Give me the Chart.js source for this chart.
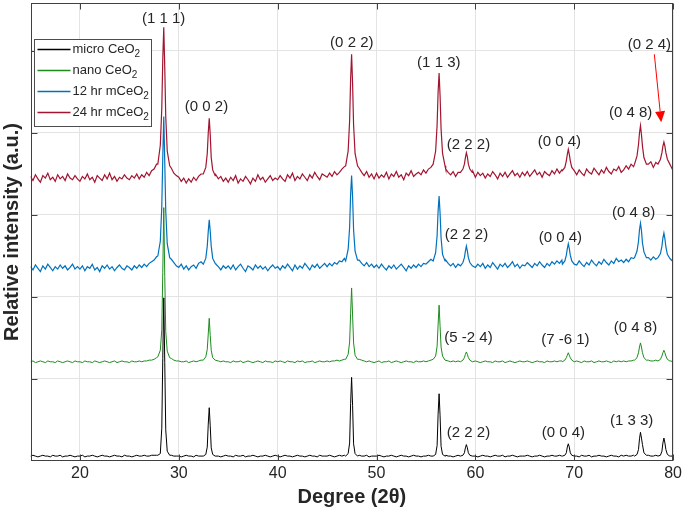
<!DOCTYPE html>
<html><head><meta charset="utf-8">
<script src="https://cdn.jsdelivr.net/npm/chart.js@4/dist/chart.umd.min.js"></script>
<style>html,body{margin:0;padding:0;background:#fff}#wrap{width:685px;height:515px}</style>
</head><body><div id="wrap"><canvas id="c" width="685" height="515"></canvas></div>
<script>
// ---- scan grid (2θ, degrees) ----
const scanStart = 15, scanStep = 0.25;
const xTickValues = [20, 30, 40, 50, 60, 70, 80];
const yGridValues = [100, 200, 300, 400, 500];
const seriesNames = ['micro CeO2', 'nano CeO2', '12 hr mCeO2', '24 hr mCeO2'];
const seriesColors = ['#000000', '#1d8c1d', '#0072BD', '#A2142F'];

// reflection positions and sampling offsets around them
const peakCenters = [28.48, 33.08, 47.48, 56.33, 59.09, 69.40, 76.70, 79.07];
const peakOffsets = [-0.6, -0.35, -0.2, -0.1, 0, 0.1, 0.2, 0.35, 0.6];

// ---- background (every 0.25°, 15 → 80) ----
const microBase = [
6,7,6,5,6,7,6,6,5,7,6,6,7,5,6,6,7,6,5,6,
6,7,5,6,6,7,6,5,6,7,6,6,5,6,7,6,6,5,7,6,
6,5,6,7,6,6,7,6,6,7,7,7,10,60,190,60,10,7,6,6,
6,5,6,7,6,6,5,7,6,6,7,30,65,30,7,6,6,5,6,7,
6,6,5,7,6,6,7,5,6,6,7,6,5,6,6,7,6,5,6,7,
6,5,6,7,6,6,5,6,7,6,6,5,6,7,6,6,5,7,6,6,
6,7,6,5,6,7,6,7,10,60,100,60,10,7,6,6,7,5,6,6,
6,7,6,5,6,6,7,6,5,6,7,6,6,5,6,7,6,6,5,6,
6,7,6,8,50,80,50,8,7,6,6,5,6,7,7,12,20,12,7,6,
6,5,6,7,6,6,5,6,7,6,6,7,5,6,6,7,6,5,6,6,
6,7,6,5,6,6,7,6,5,6,6,7,6,6,7,6,10,21,14,7,
6,6,5,7,6,6,7,5,6,6,7,6,6,5,6,7,6,6,5,7,
6,7,6,6,7,10,30,33,16,8,7,6,6,7,7,15,28,15,7,6,
6];
const nanoBase = [
121,122,120,121,122,121,120,122,121,121,120,122,121,120,121,122,121,120,122,121,
121,120,122,121,121,120,122,121,120,121,122,121,120,121,122,120,121,122,121,121,
120,122,121,121,122,121,122,122,123,123,124,126,130,170,300,170,130,125,123,122,
122,121,121,122,120,121,122,121,122,123,124,150,174,150,124,123,122,121,122,121,
121,120,122,121,121,122,120,121,122,121,120,121,122,121,120,122,121,121,120,122,
121,122,121,120,122,121,121,120,122,121,122,120,121,121,122,120,121,122,121,121,
122,121,122,122,123,122,123,124,130,180,211,180,130,124,123,122,121,122,121,120,
121,122,120,121,121,122,120,121,122,121,120,121,122,121,121,120,122,121,121,122,
121,122,123,130,170,190,170,130,123,122,121,122,121,122,122,128,133,128,122,121,
122,121,120,121,122,121,121,120,122,121,121,122,120,121,122,121,120,121,122,121,
121,122,121,120,121,122,121,121,120,122,121,121,122,121,122,122,126,132,128,123,
121,122,121,120,122,121,121,122,120,121,122,121,121,122,121,120,122,121,122,121,
122,121,122,122,123,130,143,140,130,124,123,122,122,123,124,130,135,130,124,122,
121];
const hr12Base = [
237,233,239,235,231,238,234,240,236,232,237,234,239,235,238,233,236,240,234,237,
234,238,232,237,235,240,233,236,231,238,235,239,234,237,232,236,239,235,233,238,
236,233,238,235,239,236,240,237,241,243,245,249,260,320,420,320,258,246,242,238,
236,240,234,238,233,237,239,235,241,243,245,270,294,270,245,240,237,233,238,235,
238,234,239,233,237,240,235,231,238,236,233,239,235,238,234,237,232,236,239,235,
237,233,238,235,240,236,232,239,234,238,235,241,237,233,239,236,240,235,238,241,
237,241,238,242,240,244,243,247,255,300,348,300,255,245,241,238,242,237,240,236,
239,235,240,236,233,238,235,239,234,237,240,236,232,238,235,239,236,240,237,241,
240,243,246,260,300,323,300,260,245,241,238,241,236,240,240,250,262,250,240,238,
236,240,237,241,235,239,236,242,238,234,240,237,241,236,239,243,237,240,235,239,
238,242,239,236,241,238,243,239,236,241,238,243,240,244,241,245,255,262,260,245,
243,239,244,240,237,242,239,245,241,238,243,240,246,242,239,244,241,247,243,245,
242,246,243,248,247,260,285,285,265,252,248,245,249,246,250,265,278,262,250,246,
243];
const hr24Base = [
347,342,349,344,340,348,345,351,343,346,341,349,344,347,342,350,345,343,348,344,
341,347,344,350,343,346,340,348,345,342,349,344,351,343,347,341,346,344,349,345,
343,348,345,350,344,349,346,352,348,354,356,362,370,400,500,400,365,357,351,348,
346,341,345,339,344,340,346,342,347,350,352,380,418,380,352,349,344,347,341,345,
340,346,342,348,339,344,341,347,343,338,345,341,349,343,346,340,344,348,342,345,
343,348,344,341,349,345,351,342,347,344,350,346,342,349,345,352,347,343,350,348,
346,351,347,353,349,352,356,359,380,430,496,430,380,357,352,348,353,346,350,344,
351,345,349,346,352,344,350,347,353,346,349,343,351,348,354,347,350,352,349,355,
351,356,358,370,420,470,420,370,356,352,349,353,347,352,355,365,376,365,355,353,
346,352,348,351,345,350,347,353,349,344,351,347,352,346,350,354,348,351,346,352,
348,353,347,351,355,349,352,346,353,350,348,354,350,356,351,355,366,378,376,358,
354,349,355,351,348,356,352,350,357,353,349,355,351,358,353,350,356,354,359,352,
355,360,356,362,359,380,405,405,385,368,362,365,358,364,366,380,389,380,366,360,
354];

// ---- peak profiles (one row per reflection, values at peakOffsets) ----
const microPeaks = [
[7,9,40,125,199,120,38,12,7],
[6,8,17,45,65,43,16,8,6],
[6,9,22,70,102,68,21,9,6],
[6,8,19,57,82,55,18,8,6],
[6,7,10,16,20,16,10,7,6],
[6,7,10,17,21,17,10,7,6],
[6,8,14,27,35,28,20,10,7],
[6,7,12,22,28,22,14,8,6]];
const nanoPeaks = [
[127,135,160,230,309,225,158,134,126],
[123,127,136,155,174,153,135,126,123],
[124,130,145,180,211,178,144,129,124],
[124,128,140,166,190,164,139,128,123],
[121,123,126,130,133,130,126,123,121],
[121,123,126,129,132,129,126,123,121],
[123,126,132,139,144,139,132,126,123],
[122,124,128,132,135,132,128,124,122]];
const hr12Peaks = [
[250,268,310,370,420,365,305,265,248],
[240,247,262,280,294,280,262,247,241],
[244,258,285,325,348,322,282,256,245],
[244,254,275,305,323,302,272,252,244],
[238,242,248,256,262,256,248,242,238],
[240,244,251,259,265,259,251,244,240],
[248,256,268,282,290,281,266,255,248],
[248,253,262,272,278,271,261,252,247]];
const hr24Peaks = [
[362,385,430,490,529,480,420,378,360],
[350,358,375,400,418,398,370,355,348],
[360,378,415,465,496,460,410,375,360],
[362,378,410,450,473,445,405,375,360],
[352,356,362,370,376,371,362,356,352],
[354,358,366,374,380,374,366,358,354],
[362,372,386,400,409,398,384,370,362],
[362,368,376,384,389,384,376,368,362]];

// ---- reflection labels ----
const labelTexts = ['(1 1 1)','(0 0 2)','(0 2 2)','(1 1 3)','(2 2 2)','(0 0 4)','(0 4 8)','(0 2 4)',
  '(2 2 2)','(0 0 4)','(0 4 8)',
  '(5 -2 4)','(7 -6 1)','(0 4 8)',
  '(2 2 2)','(0 0 4)','(1 3 3)'];
const labelX = [28.46,32.8,47.5,56.3,59.3,68.5,75.7,77.6, 59.1,68.6,76.0, 59.3,69.1,76.2, 59.3,68.9,75.8];
const labelY = [539,432,510,485,385,389,424,507, 276,272,302, 150,148,162, 34,34,49];
const arrowFrom = [78.1, 496];
const arrowTo = [78.8, 413];

function buildSeries(base, peaks) {
  const pts = [];
  base.forEach((v, i) => {
    const x = scanStart + i * scanStep;
    if (peakCenters.every(c => Math.abs(x - c) > 0.6 + 1e-9)) pts.push({x: x, y: v});
  });
  peaks.forEach((row, k) => row.forEach((v, j) => {
    pts.push({x: +(peakCenters[k] + peakOffsets[j]).toFixed(3), y: v});
  }));
  pts.sort((a, b) => a.x - b.x);
  return pts;
}

const FONT = "'Liberation Sans', Arial, Helvetica, sans-serif";
Chart.defaults.font.family = FONT;

const boxPlugin = {
  id: 'boxTicks',
  afterDatasetsDraw(chart) {
    const {ctx, chartArea: a, scales: {x, y}} = chart;
    ctx.save();
    ctx.strokeStyle = '#404040';
    ctx.lineWidth = 1;
    const L = Math.round(a.left) + 0.5, R = Math.round(a.right) - 0.5;
    const T = Math.round(a.top) + 0.5, B = Math.round(a.bottom) - 0.5;
    ctx.strokeRect(L, T, R - L, B - T);
    ctx.beginPath();
    xTickValues.forEach(v => {
      const px = Math.round(x.getPixelForValue(v)) + 0.5;
      ctx.moveTo(px, B); ctx.lineTo(px, B - 6);
      ctx.moveTo(px, T); ctx.lineTo(px, T + 6);
    });
    yGridValues.forEach(v => {
      const py = Math.round(y.getPixelForValue(v)) + 0.5;
      ctx.moveTo(L, py); ctx.lineTo(L + 6, py);
      ctx.moveTo(R, py); ctx.lineTo(R - 6, py);
    });
    ctx.stroke();

    // reflection labels
    ctx.fillStyle = '#262626';
    ctx.font = '15px ' + FONT;
    ctx.textAlign = 'center';
    ctx.textBaseline = 'middle';
    labelTexts.forEach((t, i) => {
      ctx.fillText(t, x.getPixelForValue(labelX[i]), y.getPixelForValue(labelY[i]));
    });

    // red arrow
    const x0 = x.getPixelForValue(arrowFrom[0]), y0 = y.getPixelForValue(arrowFrom[1]);
    const x1 = x.getPixelForValue(arrowTo[0]), y1 = y.getPixelForValue(arrowTo[1]);
    const ang = Math.atan2(y1 - y0, x1 - x0);
    const hl = 11, hw = 5;
    const bx = x1 - hl * Math.cos(ang), by = y1 - hl * Math.sin(ang);
    ctx.strokeStyle = '#ff0000';
    ctx.fillStyle = '#ff0000';
    ctx.beginPath(); ctx.moveTo(x0, y0); ctx.lineTo(bx, by); ctx.stroke();
    ctx.beginPath();
    ctx.moveTo(x1, y1);
    ctx.lineTo(bx + hw * Math.sin(ang), by - hw * Math.cos(ang));
    ctx.lineTo(bx - hw * Math.sin(ang), by + hw * Math.cos(ang));
    ctx.closePath(); ctx.fill();

    // legend
    const lx = Math.round(a.left) + 3.5, ly = Math.round(a.top) + 36.5;
    ctx.fillStyle = '#ffffff';
    ctx.fillRect(lx, ly, 117, 87);
    ctx.strokeStyle = '#4d4d4d';
    ctx.strokeRect(lx, ly, 117, 87);
    ctx.textAlign = 'left';
    ctx.textBaseline = 'middle';
    seriesNames.forEach((name, i) => {
      const cy = ly + 10 + i * 21;
      ctx.strokeStyle = seriesColors[i];
      ctx.lineWidth = 1.5;
      ctx.beginPath(); ctx.moveTo(lx + 3, cy); ctx.lineTo(lx + 36, cy); ctx.stroke();
      const main = name.slice(0, -1), sub = name.slice(-1);
      ctx.fillStyle = '#262626';
      ctx.font = '13px ' + FONT;
      ctx.fillText(main, lx + 38, cy);
      const w = ctx.measureText(main).width;
      ctx.font = '10px ' + FONT;
      ctx.fillText(sub, lx + 38 + w, cy + 5);
    });
    ctx.restore();
  }
};

const datasets = [
  {label: seriesNames[0], data: buildSeries(microBase, microPeaks), borderColor: seriesColors[0], borderWidth: 1},
  {label: seriesNames[1], data: buildSeries(nanoBase, nanoPeaks), borderColor: seriesColors[1], borderWidth: 1},
  {label: seriesNames[2], data: buildSeries(hr12Base, hr12Peaks), borderColor: seriesColors[2], borderWidth: 1.2},
  {label: seriesNames[3], data: buildSeries(hr24Base, hr24Peaks), borderColor: seriesColors[3], borderWidth: 1.2}
].map(d => Object.assign(d, {pointRadius: 0, tension: 0, fill: false}));

new Chart(document.getElementById('c'), {
  type: 'line',
  data: {datasets},
  options: {
    responsive: false,
    animation: false,
    events: [],
    layout: {padding: {left: 0, right: 10, top: 3, bottom: 6}},
    plugins: {legend: {display: false}, tooltip: {enabled: false}},
    scales: {
      x: {
        type: 'linear', min: 15, max: 80,
        afterBuildTicks: s => { s.ticks = xTickValues.map(v => ({value: v})); },
        afterFit: s => { s.height = 48; },
        ticks: {color: '#262626', font: {size: 16}, padding: 3, maxRotation: 0, autoSkip: false},
        grid: {color: '#e3e3e3', drawTicks: false},
        border: {display: false},
        title: {display: true, text: 'Degree (2θ)', color: '#262626', font: {size: 20, weight: 'bold'}, padding: {top: 0, bottom: 0}}
      },
      y: {
        min: 0, max: 558.5,
        afterBuildTicks: s => { s.ticks = yGridValues.map(v => ({value: v})); },
        afterFit: s => { s.width = 30.5; },
        ticks: {display: false},
        grid: {color: '#e3e3e3', drawTicks: false},
        border: {display: false},
        title: {display: true, text: 'Relative intensity (a.u.)', color: '#262626', font: {size: 20, weight: 'bold'}, padding: {top: 0, bottom: 0}}
      }
    }
  },
  plugins: [boxPlugin]
});
</script>
</body></html>
